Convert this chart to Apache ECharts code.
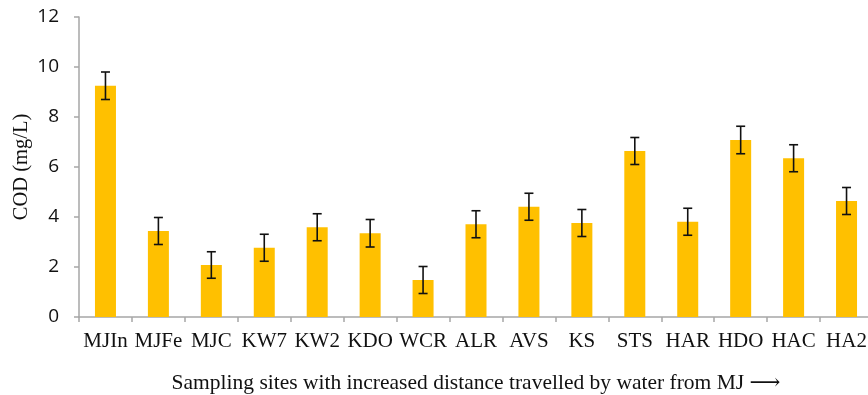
<!DOCTYPE html>
<html><head><meta charset="utf-8">
<script src="https://cdn.jsdelivr.net/npm/echarts@6/dist/echarts.min.js"></script>
<style>html,body{margin:0;padding:0;background:#fff}#c{width:868px;height:395px}</style>
</head><body><div id="c"></div>
<script>
const categories = ['MJIn','MJFe','MJC','KW7','KW2','KDO','WCR','ALR','AVS','KS','STS','HAR','HDO','HAC','HA2'];
const cod = [9.25,3.44,2.08,2.77,3.59,3.35,1.48,3.71,4.41,3.76,6.64,3.81,7.08,6.35,4.64];
const err = [0.55,0.54,0.53,0.54,0.54,0.55,0.54,0.54,0.54,0.54,0.54,0.54,0.55,0.54,0.54];
const yTicks = [0,2,4,6,8,10,12];

const chart = echarts.init(document.getElementById('c'), null, {renderer:'canvas'});
const serif = '"Liberation Serif","DejaVu Serif",serif';
chart.setOption({
  animation:false,
  backgroundColor:'#fff',
  grid:{left:79,right:-5,top:17,bottom:78,containLabel:false,outerBoundsMode:'none'},
  xAxis:{
    type:'category', data:categories, boundaryGap:true,
    axisLine:{lineStyle:{color:'#a6a6a6',width:1.5}},
    axisTick:{show:true,length:5,alignWithLabel:false,lineStyle:{color:'#a6a6a6',width:1.5}},
    axisLabel:{interval:0,margin:14,color:'#111',fontFamily:serif,fontSize:21},
    name:'Sampling sites with increased distance travelled by water from MJ \u27F6',
    nameLocation:'middle', nameGap:55, nameMoveOverlap:false,
    nameTextStyle:{color:'#111',fontFamily:serif,fontSize:21.5}
  },
  yAxis:{
    type:'value', min:yTicks[0], max:yTicks[yTicks.length-1], interval:2,
    splitLine:{show:false},
    axisLine:{show:true,lineStyle:{color:'#a6a6a6',width:1.5}},
    axisTick:{show:true,length:5,lineStyle:{color:'#a6a6a6',width:1.5}},
    axisLabel:{margin:20,color:'#111',fontFamily:'"Open Sans","Liberation Sans",sans-serif',fontSize:19},
    name:'COD (mg/L)', nameLocation:'middle', nameGap:47, nameRotate:90, nameMoveOverlap:false,
    nameTextStyle:{color:'#111',fontFamily:serif,fontSize:20.5}
  },
  series:[
    {type:'bar',data:cod,barWidth:21,itemStyle:{color:'#FFC000'},z:2},
    {type:'custom',z:3,
     data:cod.map((v,i)=>[i,v-err[i],v+err[i]]),
     renderItem:function(params,api){
       const lo=api.coord([api.value(0),api.value(1)]);
       const hi=api.coord([api.value(0),api.value(2)]);
       const x=lo[0], h=4.5;
       const st={stroke:'#111',lineWidth:1.6};
       return {type:'group',children:[
         {type:'line',shape:{x1:x,y1:hi[1],x2:x,y2:lo[1]},style:st},
         {type:'line',shape:{x1:x-h,y1:hi[1],x2:x+h,y2:hi[1]},style:st},
         {type:'line',shape:{x1:x-h,y1:lo[1],x2:x+h,y2:lo[1]},style:st}
       ]};
     }}
  ]
});
</script></body></html>
